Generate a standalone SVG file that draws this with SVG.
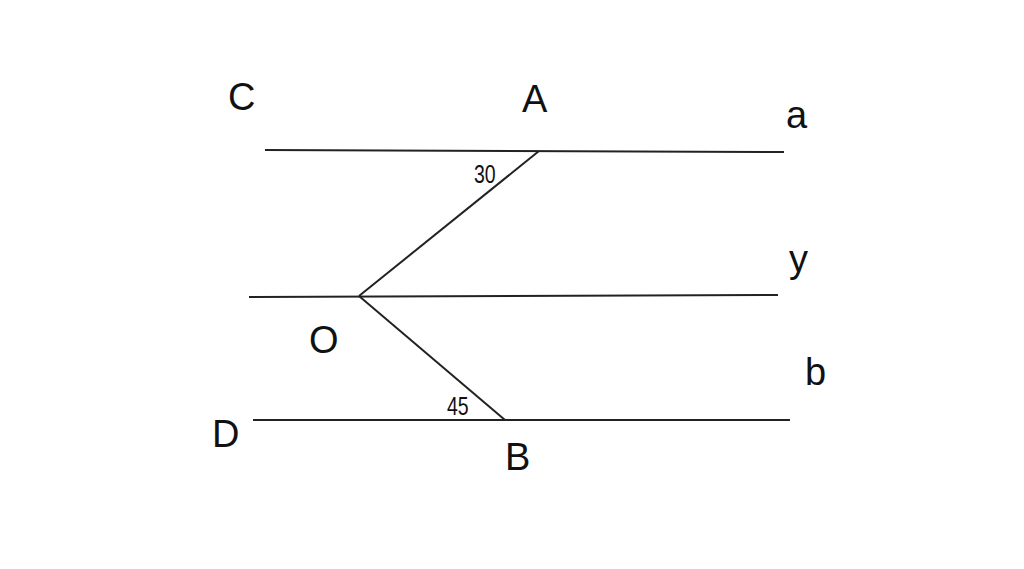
<svg xmlns="http://www.w3.org/2000/svg" width="1024" height="569" viewBox="0 0 1024 569">
<style>
.l{stroke:#222;stroke-width:2;fill:none}
.t{font-family:"Liberation Sans",Arial,sans-serif;font-size:38px;fill:#111}
.s{font-family:"Liberation Sans",Arial,sans-serif;font-size:26px;fill:#111}
</style>
<rect width="1024" height="569" fill="#fff"/>
<g id="connectors">
<line class="l" x1="265" y1="150" x2="784" y2="152"/>
<line class="l" x1="249" y1="297" x2="778" y2="295"/>
<line class="l" x1="253" y1="420" x2="790" y2="420"/>
<line class="l" x1="539" y1="151" x2="359" y2="296"/>
<line class="l" x1="359" y1="296" x2="505" y2="420"/>
</g>
<g id="labels">
<text class="t" x="228" y="110">C</text>
<text class="t" x="522" y="112">A</text>
<text class="t" x="786" y="128">a</text>
<text class="t" x="789" y="272">y</text>
<text class="t" x="309" y="353">O</text>
<text class="t" x="805" y="385">b</text>
<text class="t" x="212" y="447">D</text>
<text class="t" x="505" y="470">B</text>
<text class="s" x="474" y="183" transform="translate(474 0) scale(0.75 1) translate(-474 0)">30</text>
<text class="s" x="447" y="415" transform="translate(447 0) scale(0.75 1) translate(-447 0)">45</text>
</g>
</svg>
